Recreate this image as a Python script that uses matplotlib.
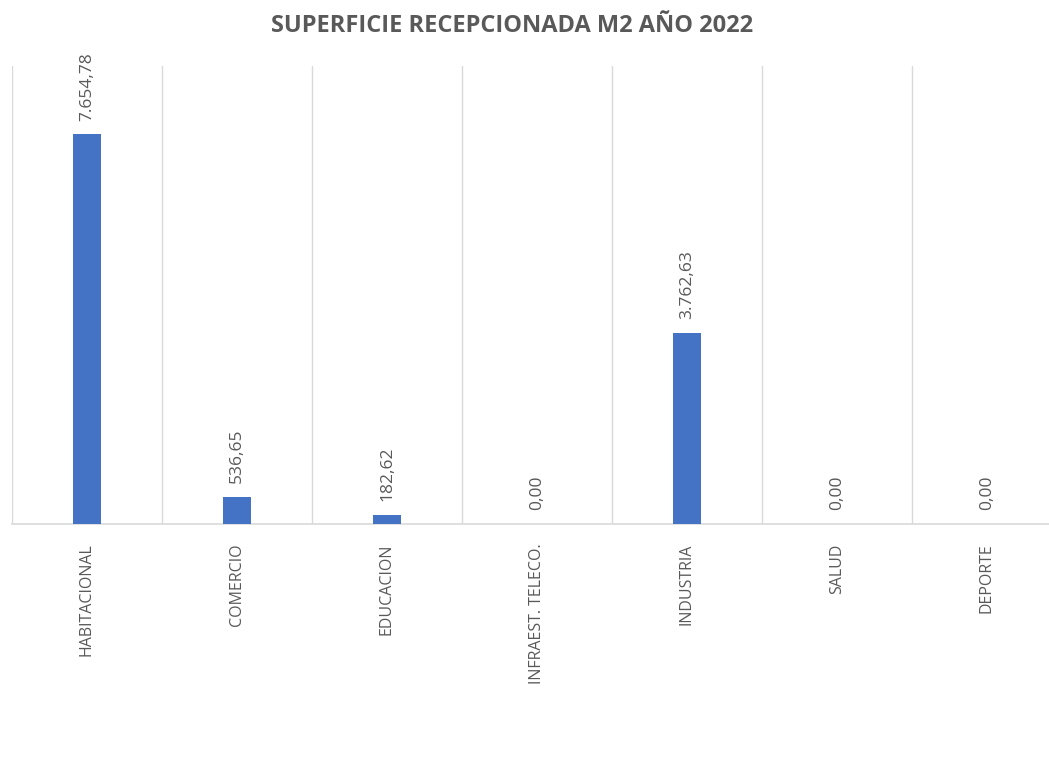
import matplotlib.pyplot as plt
import numpy as np

plt.rcParams["font.family"] = ["Open Sans", "DejaVu Sans"]

categories = ["HABITACIONAL", "COMERCIO", "EDUCACION", "INFRAEST. TELECO.",
              "INDUSTRIA", "SALUD", "DEPORTE"]
values = [7654.78, 536.65, 182.62, 0.00, 3762.63, 0.00, 0.00]
value_labels = ["7.654,78", "536,65", "182,62", "0,00", "3.762,63", "0,00", "0,00"]

BAR = "#4472C4"
TXT = "#595959"
GRID = "#D9D9D9"

fig = plt.figure(figsize=(10.49, 7.61), dpi=100)
ax = fig.add_axes([12 / 1049, (761 - 524) / 761, 1050 / 1049, 458 / 761])

x = np.arange(len(categories))
ax.bar(x, values, width=0.19, color=BAR, zorder=3)

ax.set_xlim(-0.5, len(categories) - 0.5)
ax.set_ylim(0, 9000)

# separadores verticales entre categorías
for b in np.arange(-0.5, len(categories) + 0.5, 1.0):
    ax.axvline(b, color=GRID, lw=1.0, zorder=1)

for xi, v, lab in zip(x, values, value_labels):
    ax.annotate(lab, (xi, v), xytext=(0, 10), textcoords="offset points",
                rotation=90, ha="center", va="bottom", color=TXT, fontsize=12.5)

ax.set_xticks(x)
ax.set_xticklabels(categories, rotation=90, color=TXT, fontsize=11.5)
ax.tick_params(axis="x", length=0, pad=14)
ax.set_yticks([])
for s in ["top", "right", "left"]:
    ax.spines[s].set_visible(False)
ax.spines["bottom"].set_color(GRID)
ax.spines["bottom"].set_linewidth(1.2)

fig.text(512 / 1049, 1 - 26 / 761, "SUPERFICIE RECEPCIONADA M2 AÑO 2022",
         ha="center", va="center", fontsize=17, fontweight="bold", color=TXT)

fig.savefig("out.png", dpi=100)
